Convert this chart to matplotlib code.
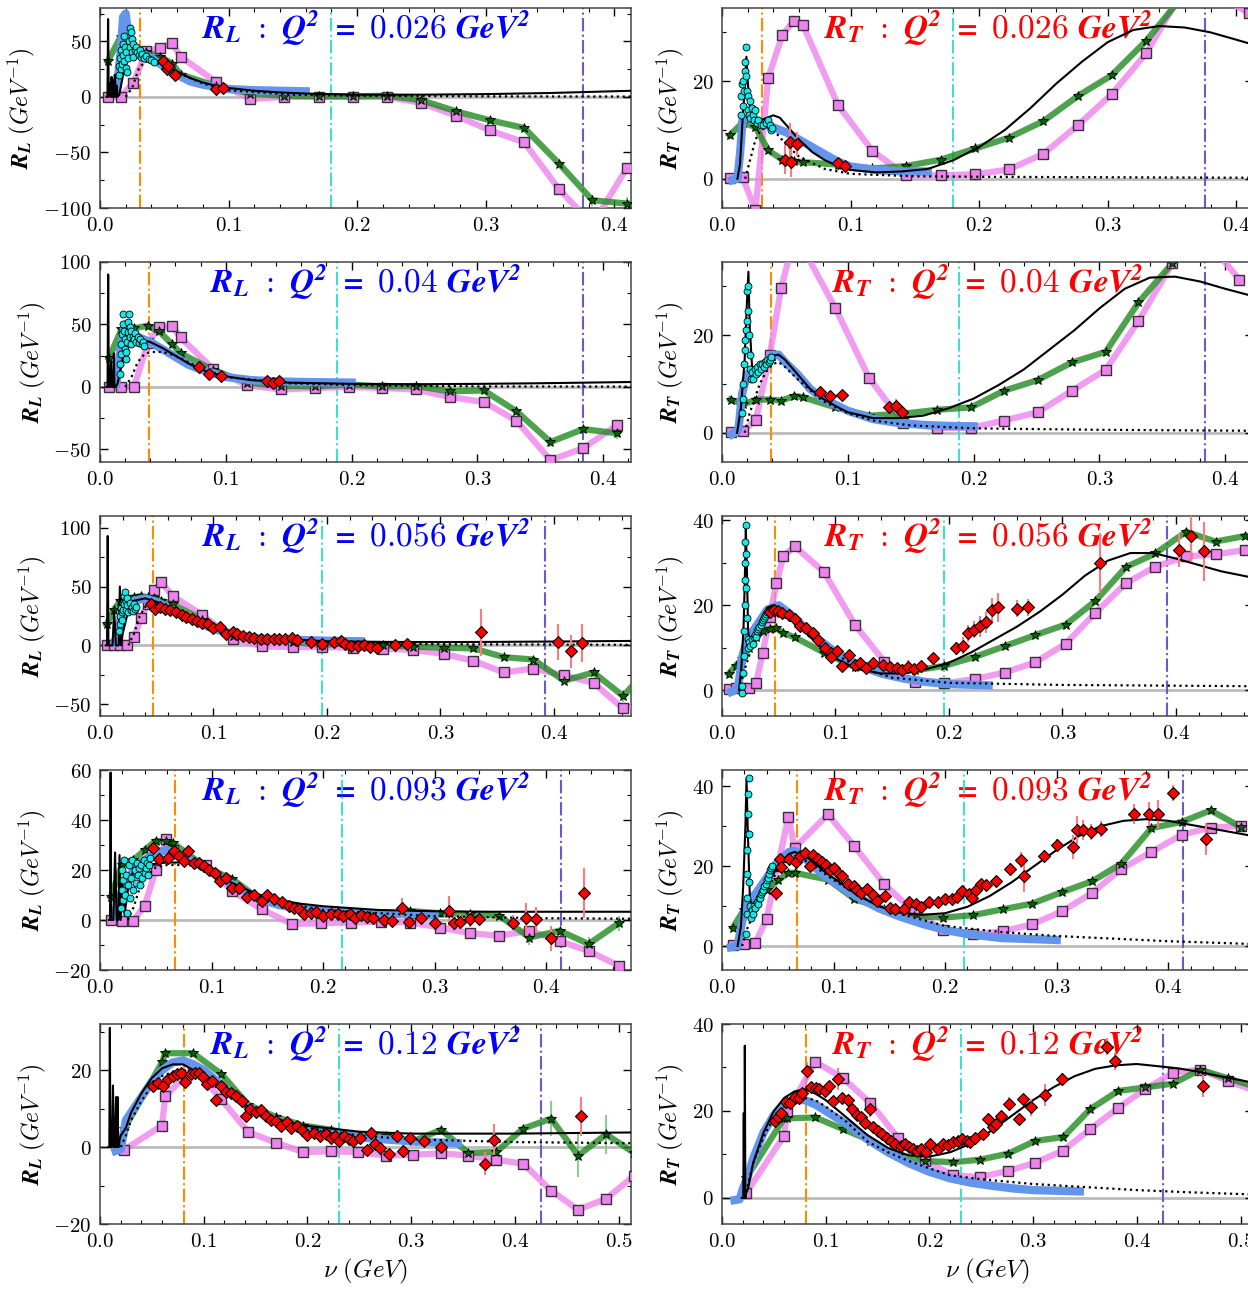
import matplotlib
matplotlib.use("Agg")
import matplotlib.pyplot as plt
from matplotlib.ticker import MultipleLocator, AutoMinorLocator, FuncFormatter

plt.rcParams['mathtext.fontset'] = 'custom'
plt.rcParams['mathtext.rm'] = 'cmr10'
plt.rcParams['mathtext.it'] = 'cmmi10'
plt.rcParams['mathtext.bf'] = 'STIXGeneral:italic:bold'
plt.rcParams['font.family'] = ['DejaVu Serif']

# ---------------- data ----------------
q2_values = ['0.026', '0.04', '0.056', '0.093', '0.12']
nu_lines = [(0.031, 0.180, 0.376), (0.039, 0.188, 0.384), (0.047, 0.196, 0.392),
            (0.067, 0.217, 0.413), (0.081, 0.230, 0.425)]

# theory grids (green stars / violet squares)
nu_th_1 = [0.006, 0.016, 0.026, 0.036, 0.047, 0.056, 0.063, 0.090, 0.117, 0.143, 0.170, 0.197, 0.223, 0.250, 0.277, 0.303, 0.330, 0.357, 0.383, 0.410]
rl_violet_1 = [0, 0, 12.7, 41, 44, 48.5, 36, 13.6, -2, 0, 0, 0, 0, -5.5, -17, -30, -41, -83, -115, -63.6]
rl_green_1 = [32, 54, 44, 40, 36, 30, 20, 10, 3, 1, 0.5, 0.5, 1, -3, -13, -21, -28, -60, -93, -96]
rl_green_err_1 = [0] * 18 + [5, 6]
rt_violet_1 = [0.1, 0.3, -6.5, 20.7, 29.5, 32.4, 31.5, 15.2, 5.7, 0.7, 0.7, 0.9, 1.9, 5.1, 11, 17.3, 25.7, 38, 38, 33.9]
rt_green_1 = [8.9, 11.5, 10.6, 5.8, 3.9, 3.6, 3.4, 2.9, 2.1, 2.6, 3.9, 6.2, 8.4, 11.8, 17, 21.2, 28.3, 37, 42, 45]

nu_th_2 = [0.007, 0.017, 0.027, 0.038, 0.047, 0.0575, 0.064, 0.090, 0.117, 0.144, 0.171, 0.198, 0.224, 0.251, 0.278, 0.305, 0.331, 0.358, 0.384, 0.411]
rl_violet_2 = [0, 0, 0, 35, 48, 48.5, 39.6, 14.3, 1.3, -2, -0.8, 0, -0.8, -2, -8, -12, -27, -58.5, -49, -30.5]
rl_green_2 = [23, 46, 47, 49, 44.5, 34, 27, 13.5, 3.5, 0.8, 0.5, 1.9, 0.5, 0.8, -3.5, -2.7, -19.4, -44, -33.7, -37]
rl_green_err_2 = [0] * 17 + [4, 0, 5]
rt_violet_2 = [0.1, 0.3, 2.7, 16, 29.7, 40, 38, 25.6, 11.2, 2, 1, 1, 2.5, 4.2, 8.6, 12.9, 22.9, 34.8, 40, 31.4]
rt_green_2 = [6.8, 5.8, 6.8, 6.8, 6.6, 7.5, 7.3, 5.2, 3.5, 3.9, 4.7, 5.2, 8.6, 10.8, 14.4, 16.6, 26.7, 34.8, 42, 45]

nu_th_3 = [0.006, 0.012, 0.018, 0.024, 0.030, 0.036, 0.042, 0.048, 0.054, 0.064, 0.090, 0.117, 0.143, 0.170, 0.196, 0.223, 0.249, 0.276, 0.303, 0.329, 0.356, 0.382, 0.409, 0.435, 0.461, 0.488]
rl_violet_3 = [0, 0, 0, 0, 7, 23, 35, 47, 53.6, 42, 26, 5.8, -0.9, -1.4, -1.4, -2, -2.9, -3.8, -7.2, -13, -23, -19.7, -25.5, -31.9, -53.6, -45]
rl_green_3 = [18, 30, 38, 40, 41, 42, 41, 40, 38, 35, 22, 8, 5, 3, 0.5, 2, 0, -1, -2, -2.5, -10, -12, -30, -23, -43, -15]
rl_green_err_3 = [0] * 23 + [3, 5, 0]
rt_violet_3 = [0.3, 0.5, 0.5, 0.6, 1.7, 8.9, 17.3, 25.2, 31.5, 33.9, 27.8, 15.5, 6.8, 1.9, 1.7, 2.7, 4.2, 6.6, 11, 18.2, 25.2, 29.1, 31.5, 32, 33, 34]
rt_green_3 = [3.9, 5.8, 7.4, 10, 12.5, 14, 14.5, 14.6, 13.5, 12.5, 8.9, 5.5, 5, 4.7, 5.8, 7.9, 10.4, 13, 15.5, 21, 29, 32.2, 37.3, 35, 36.3, 37]

nu_th_4 = [0.0098, 0.0195, 0.030, 0.040, 0.050, 0.0596, 0.065, 0.095, 0.1185, 0.145, 0.172, 0.198, 0.225, 0.252, 0.278, 0.305, 0.332, 0.358, 0.385, 0.412, 0.438, 0.465]
rl_violet_4 = [0, -0.3, -0.3, 5.7, 20, 32.4, 28, 22, 11.6, 4.3, -1.6, -1.3, -1, -0.7, -1, -3, -5.3, -6.3, -4.3, -8.4, -12.4, -18.3]
rl_green_4 = [9.3, 22, 24, 28, 31.6, 31.6, 31, 21, 16.4, 7.7, 5, 3, 2, 2, 3.6, 2.7, 2.3, 1.7, -7, -4.3, -9.6, -1.3]
rl_green_err_4 = [0] * 18 + [3, 0, 3, 3]
rt_violet_4 = [0.3, 0.6, 0.8, 6.8, 20, 32.3, 24.5, 32.9, 25, 15.6, 8.5, 4.1, 2.9, 3.7, 5.4, 8.7, 13.3, 19.3, 23.5, 27.8, 29.6, 30]
rt_green_4 = [4.6, 9, 12, 14, 16.4, 18.3, 18.3, 16.6, 11.8, 9.2, 7.5, 7.1, 7.7, 9.2, 10.6, 13.5, 16.2, 20.6, 29.5, 31, 33.9, 29.8]

nu_th_5 = [0.0235, 0.0597, 0.063, 0.090, 0.117, 0.143, 0.170, 0.196, 0.223, 0.249, 0.276, 0.302, 0.329, 0.355, 0.382, 0.408, 0.435, 0.461, 0.488, 0.515]
rl_violet_5 = [-0.7, 5.6, 13.2, 20.6, 12.4, 3.9, 1.1, -1.3, -1.1, -1.3, -2.2, -2, -1.6, -2.2, -3.3, -4.3, -11.3, -16.3, -13.4, -7.5]
rl_green_5 = [4.8, 22, 24.4, 24.4, 19, 11, 7.8, 5.6, 4.5, 3, 2.8, 1.5, 4.5, -1.5, -1.3, 4.8, 7.4, -2.2, 3.3, -1.5]
rl_green_err_5 = [0] * 16 + [4.5, 5.5, 5, 0]
rt_violet_5 = [1.2, 14.2, 19.8, 31.3, 27.5, 21.8, 13.8, 8.5, 5.2, 4.8, 6.2, 8.1, 10.9, 15.8, 20.7, 25, 28.8, 29.5, 26.9, 24.5]
rt_green_5 = [4.6, 18.3, 18.3, 18.5, 15.8, 13.2, 9.6, 8.5, 8.2, 8.8, 10.2, 13.1, 14, 20.4, 24.6, 25.4, 26.3, 29.5, 27.5, 25.5]

# black solid model curves
rl_black_nu_1 = [0.005, 0.0058, 0.0063, 0.0068, 0.0075, 0.0085, 0.009, 0.0095, 0.0105, 0.011, 0.0115, 0.0125, 0.013, 0.0135, 0.015, 0.018, 0.022, 0.026, 0.030, 0.035, 0.040, 0.050, 0.060, 0.070, 0.080, 0.090, 0.100, 0.120, 0.140, 0.160, 0.200, 0.250, 0.300, 0.350, 0.413]
rl_black_1 = [0, 0, 70, 0, 12, 0, 18, 0, 15, 0, 20, 0, 10, 0, 2, 20, 35, 38, 38, 37, 34, 29, 23, 17, 13, 10, 8, 5.5, 4, 3, 2, 2, 2.5, 3.5, 5.5]
rt_black_nu_1 = [0.012, 0.014, 0.016, 0.018, 0.019, 0.020, 0.022, 0.025, 0.030, 0.035, 0.040, 0.045, 0.050, 0.060, 0.070, 0.080, 0.090, 0.100, 0.120, 0.140, 0.160, 0.180, 0.200, 0.220, 0.240, 0.260, 0.280, 0.300, 0.320, 0.340, 0.360, 0.380, 0.400, 0.413]
rt_black_1 = [0, 3, 12, 20, 25, 20, 14, 12, 12, 12.5, 13, 12.5, 11, 8, 5.5, 3.8, 2.6, 1.8, 1.3, 1.5, 2, 3.8, 6.5, 10, 14.5, 19.5, 24, 28, 30.5, 31.3, 31, 30, 28.5, 27.5]

rl_black_nu_2 = [0.005, 0.006, 0.0065, 0.007, 0.008, 0.0088, 0.0095, 0.0105, 0.011, 0.0115, 0.0125, 0.014, 0.018, 0.022, 0.026, 0.030, 0.035, 0.040, 0.050, 0.060, 0.070, 0.080, 0.090, 0.100, 0.120, 0.150, 0.200, 0.250, 0.300, 0.350, 0.422]
rl_black_2 = [0, 0, 90, 0, 0, 20, 0, 0, 27, 0, 0, 3, 22, 36, 38, 38, 37, 36, 31, 25, 19, 14, 11, 8.5, 5.5, 3.5, 2.5, 2.2, 2.5, 3, 4]
rt_black_nu_2 = [0.012, 0.015, 0.018, 0.0195, 0.021, 0.022, 0.024, 0.027, 0.030, 0.035, 0.040, 0.045, 0.050, 0.060, 0.070, 0.080, 0.090, 0.100, 0.120, 0.140, 0.160, 0.180, 0.200, 0.220, 0.240, 0.260, 0.280, 0.300, 0.320, 0.340, 0.360, 0.380, 0.400, 0.422]
rt_black_2 = [0, 5, 15, 25, 33, 22, 13, 12, 13.5, 14.5, 15.8, 16, 15, 12, 9, 7, 5.5, 4.2, 3, 3, 3.5, 5, 7, 9.8, 13, 17, 21, 25.5, 29.5, 31.8, 32, 31, 29.5, 28]

rl_black_nu_3 = [0.005, 0.0062, 0.0068, 0.0074, 0.011, 0.0125, 0.014, 0.0165, 0.0175, 0.0185, 0.020, 0.025, 0.030, 0.040, 0.050, 0.060, 0.070, 0.080, 0.090, 0.100, 0.120, 0.140, 0.160, 0.200, 0.250, 0.300, 0.350, 0.400, 0.468]
rl_black_3 = [0, 0, 93, 0, 0, 30, 0, 0, 50, 0, 10, 30, 38, 40, 37, 33, 28, 23, 19, 15, 10, 7, 5.5, 3.5, 3, 2.8, 3, 3.3, 3.8]
rt_black_nu_3 = [0.015, 0.017, 0.019, 0.020, 0.021, 0.022, 0.023, 0.025, 0.030, 0.035, 0.040, 0.045, 0.050, 0.060, 0.070, 0.080, 0.090, 0.100, 0.120, 0.140, 0.160, 0.180, 0.200, 0.220, 0.240, 0.260, 0.280, 0.300, 0.320, 0.340, 0.360, 0.380, 0.400, 0.420, 0.440, 0.468]
rt_black_3 = [0, 5, 15, 25, 38, 28, 14, 10.5, 14, 17, 19.5, 20, 19.5, 17, 14.5, 12, 9.5, 7.5, 5, 4, 4, 5, 6.5, 9, 12, 15, 18.5, 22.5, 27, 30.5, 32.3, 32.3, 31, 29.5, 28, 26.5]

rl_black_nu_4 = [0.008, 0.009, 0.0095, 0.010, 0.012, 0.0135, 0.015, 0.0165, 0.0175, 0.0185, 0.020, 0.022, 0.025, 0.030, 0.040, 0.050, 0.060, 0.075, 0.090, 0.100, 0.120, 0.140, 0.160, 0.180, 0.200, 0.250, 0.300, 0.350, 0.400, 0.476]
rl_black_4 = [0, 0, 59, 0, 0, 27, 0, 0, 26, 0, 15, 2, 12, 20, 22, 22.5, 23, 23, 21.5, 19, 14.5, 10.5, 8, 6.5, 5.5, 4, 3.5, 3.3, 3.3, 3.3]
rt_black_nu_4 = [0.014, 0.017, 0.019, 0.021, 0.022, 0.023, 0.025, 0.028, 0.030, 0.040, 0.050, 0.060, 0.065, 0.070, 0.080, 0.090, 0.100, 0.120, 0.140, 0.160, 0.180, 0.200, 0.220, 0.240, 0.260, 0.280, 0.300, 0.320, 0.340, 0.360, 0.380, 0.400, 0.420, 0.440, 0.476]
rt_black_4 = [0, 5, 15, 30, 42, 30, 12, 8, 9, 15, 20, 23, 23.5, 23, 21.5, 19, 17, 13, 10, 8.3, 7.8, 8.2, 9.8, 12.5, 16, 20, 24, 27.5, 30, 31.3, 31.7, 31.3, 30.3, 29.3, 27.5]

rl_black_nu_5 = [0.008, 0.009, 0.0095, 0.010, 0.0115, 0.0125, 0.0135, 0.0145, 0.0155, 0.016, 0.017, 0.0175, 0.018, 0.019, 0.020, 0.025, 0.030, 0.040, 0.050, 0.060, 0.070, 0.080, 0.090, 0.100, 0.120, 0.140, 0.160, 0.180, 0.200, 0.250, 0.300, 0.400, 0.512]
rl_black_5 = [0, 0, 31, 0, 0, 16, 0, 0, 13, 0, 13, 0, 0, 2, 3, 5, 9, 14, 18, 20.5, 21.5, 21.5, 20, 18.5, 14.5, 11, 8.5, 6.5, 5.5, 4, 3.5, 3.5, 3.8]
rt_black_nu_5 = [0.019, 0.0205, 0.021, 0.0215, 0.0218, 0.022, 0.0225, 0.023, 0.025, 0.030, 0.040, 0.050, 0.060, 0.070, 0.080, 0.090, 0.100, 0.120, 0.140, 0.160, 0.180, 0.200, 0.220, 0.240, 0.260, 0.280, 0.300, 0.320, 0.340, 0.360, 0.380, 0.400, 0.420, 0.440, 0.460, 0.480, 0.512]
rt_black_5 = [0, 0, 19.5, 0, 5, 35, 0, 1, 2, 8, 15, 20, 23, 24.5, 25, 24, 22.5, 18.5, 14.5, 11.5, 9.8, 9.5, 10.5, 12.5, 15.5, 19, 22.5, 25.5, 28, 29.7, 30.5, 30.8, 30.3, 29.8, 29, 28, 26.5]

# black dotted curves
rl_dot_nu_1 = [0.020, 0.025, 0.030, 0.035, 0.045, 0.060, 0.080, 0.100, 0.150, 0.200, 0.300, 0.413]
rl_dot_1 = [0, 8, 25, 32, 30, 22, 12, 6, 2, 1, 0.5, 0.3]
rt_dot_nu_1 = [0.018, 0.022, 0.026, 0.030, 0.035, 0.040, 0.050, 0.060, 0.080, 0.100, 0.150, 0.200, 0.300, 0.413]
rt_dot_1 = [0, 4, 8, 10, 10.5, 10, 7, 4.5, 2, 1, 0.5, 0.4, 0.3, 0.2]
rl_dot_nu_2 = [0.020, 0.025, 0.030, 0.035, 0.040, 0.050, 0.060, 0.080, 0.100, 0.150, 0.200, 0.300, 0.422]
rl_dot_2 = [0, 8, 20, 26, 28, 28, 25, 15, 8, 3, 1.5, 0.5, 0.3]
rt_dot_nu_2 = [0.018, 0.022, 0.026, 0.030, 0.035, 0.040, 0.045, 0.050, 0.060, 0.080, 0.100, 0.120, 0.150, 0.200, 0.300, 0.422]
rt_dot_2 = [0, 4, 7, 10, 12.5, 14, 14.5, 13.5, 11, 6.5, 4, 2.5, 1.5, 0.9, 0.6, 0.4]
rl_dot_nu_3 = [0.025, 0.030, 0.035, 0.040, 0.050, 0.060, 0.080, 0.100, 0.120, 0.150, 0.200, 0.300, 0.468]
rl_dot_3 = [0, 10, 25, 33, 36, 33, 23, 15, 9, 5, 2.5, 1, 0.5]
rt_dot_nu_3 = [0.015, 0.020, 0.025, 0.030, 0.040, 0.045, 0.050, 0.060, 0.080, 0.100, 0.120, 0.150, 0.200, 0.300, 0.468]
rt_dot_3 = [0, 5, 9, 13, 17.5, 18.5, 18, 16.5, 12, 8.5, 5.5, 3, 1.8, 1.3, 1]
rl_dot_nu_4 = [0.025, 0.030, 0.035, 0.040, 0.050, 0.060, 0.080, 0.100, 0.120, 0.150, 0.200, 0.300, 0.400, 0.476]
rl_dot_4 = [0, 5, 12, 17, 21, 22, 22, 18.5, 13.5, 8, 4, 1.5, 0.7, 0.5]
rt_dot_nu_4 = [0.018, 0.022, 0.030, 0.040, 0.050, 0.060, 0.065, 0.070, 0.080, 0.100, 0.120, 0.140, 0.160, 0.200, 0.250, 0.300, 0.400, 0.476]
rt_dot_4 = [0, 4, 9, 14, 19, 22, 22.5, 22, 20.5, 16.5, 13, 10, 8, 5, 3.5, 2.5, 1.2, 0.5]
rl_dot_nu_5 = [0.020, 0.025, 0.030, 0.040, 0.050, 0.060, 0.070, 0.080, 0.090, 0.100, 0.120, 0.140, 0.160, 0.200, 0.250, 0.300, 0.400, 0.512]
rl_dot_5 = [0, 3, 7, 12, 16, 18.5, 19.5, 20, 19.5, 18, 14, 10.5, 8, 5, 3, 2, 1.3, 1]
rt_dot_nu_5 = [0.022, 0.025, 0.030, 0.040, 0.050, 0.060, 0.070, 0.080, 0.090, 0.100, 0.120, 0.140, 0.160, 0.180, 0.200, 0.220, 0.250, 0.300, 0.350, 0.400, 0.450, 0.512]
rt_dot_5 = [0, 3, 8, 14, 18.5, 21, 22.5, 23, 22.5, 21, 17.5, 13, 10.5, 8.5, 6.8, 5.2, 4.3, 3.2, 2.5, 1.8, 1.3, 0.8]

# thick blue curves
rl_blue_nu_1 = [0.013, 0.016, 0.018, 0.020, 0.022, 0.026, 0.030, 0.040, 0.050, 0.060, 0.070, 0.080, 0.100, 0.120, 0.140, 0.160]
rl_blue_1 = [5, 40, 72, 75, 55, 45, 40, 35, 27, 20, 14, 11, 7, 6, 5.5, 5]
rt_blue_nu_1 = [0.008, 0.012, 0.014, 0.016, 0.020, 0.030, 0.040, 0.050, 0.060, 0.070, 0.080, 0.090, 0.100, 0.120, 0.140, 0.160]
rt_blue_1 = [-0.3, 0, 5, 12, 12.5, 11.5, 10.5, 9.5, 8, 6.5, 5, 3.5, 2.5, 1.8, 1.5, 1.5]
rl_blue_nu_2 = [0.013, 0.016, 0.020, 0.025, 0.030, 0.040, 0.050, 0.060, 0.070, 0.080, 0.100, 0.120, 0.140, 0.160, 0.200]
rl_blue_2 = [3, 30, 50, 45, 40, 36, 30, 24, 18, 14, 8, 5.5, 4.5, 4, 3.5]
rt_blue_nu_2 = [0.008, 0.013, 0.016, 0.020, 0.030, 0.040, 0.045, 0.050, 0.060, 0.070, 0.080, 0.100, 0.120, 0.140, 0.160, 0.180, 0.200]
rt_blue_2 = [-0.3, 0.5, 8, 12, 13, 16, 16, 14.5, 12, 9, 7, 4.5, 2.8, 2, 1.6, 1.4, 1.3]
rl_blue_nu_3 = [0.013, 0.020, 0.030, 0.040, 0.050, 0.060, 0.070, 0.080, 0.090, 0.100, 0.120, 0.140, 0.160, 0.200, 0.230]
rl_blue_3 = [2, 30, 38, 40, 37, 32, 27, 22, 18, 14, 9, 6, 5, 4, 3.5]
rt_blue_nu_3 = [0.008, 0.014, 0.018, 0.022, 0.030, 0.040, 0.050, 0.060, 0.070, 0.080, 0.090, 0.100, 0.120, 0.140, 0.160, 0.180, 0.200, 0.235]
rt_blue_3 = [-0.3, 0.5, 8, 12, 15, 19, 20, 18, 15.5, 13, 11, 9, 6, 4, 2.8, 2, 1.5, 1.2]
rl_blue_nu_4 = [0.013, 0.020, 0.030, 0.040, 0.050, 0.060, 0.070, 0.080, 0.090, 0.100, 0.120, 0.140, 0.160, 0.180, 0.200, 0.250, 0.300]
rl_blue_4 = [2, 12, 20, 24, 27, 28, 26, 24, 22, 19, 14, 9, 6, 4.5, 3.5, 2.5, 2]
rt_blue_nu_4 = [0.008, 0.014, 0.018, 0.022, 0.030, 0.040, 0.050, 0.060, 0.065, 0.070, 0.080, 0.090, 0.100, 0.120, 0.140, 0.160, 0.180, 0.200, 0.220, 0.250, 0.300]
rt_blue_4 = [-0.3, 0, 6, 11, 13, 17, 21, 23.5, 23.8, 23, 20.5, 18, 16, 12.5, 9.5, 7.3, 5.5, 4, 3, 2, 1.5]
rl_blue_nu_5 = [0.015, 0.020, 0.025, 0.030, 0.040, 0.050, 0.060, 0.070, 0.080, 0.090, 0.100, 0.120, 0.140, 0.160, 0.180, 0.200, 0.250, 0.300, 0.345]
rl_blue_5 = [-1, -0.5, 7, 9, 13, 17, 20, 22, 22.5, 21.5, 20, 15.5, 11, 8, 6, 4.5, 2.5, 1.5, 1]
rt_blue_nu_5 = [0.012, 0.017, 0.020, 0.025, 0.030, 0.040, 0.050, 0.060, 0.070, 0.080, 0.090, 0.100, 0.120, 0.140, 0.160, 0.180, 0.200, 0.220, 0.240, 0.260, 0.280, 0.300, 0.345]
rt_blue_5 = [-0.5, -0.3, 2, 5, 9, 15, 19, 21.5, 22.5, 22.5, 21.5, 20, 17, 13.5, 10.5, 8, 6, 4.5, 3.5, 2.8, 2.2, 1.8, 1.5]

# cyan circles (low-nu data)
rl_cyan_nu_1 = [0.0145, 0.015, 0.0155, 0.016, 0.0165, 0.017, 0.0175, 0.018, 0.0185, 0.019, 0.0195, 0.020, 0.0205, 0.021, 0.022, 0.0225, 0.023, 0.0235, 0.024, 0.0245, 0.025, 0.0255, 0.026, 0.027, 0.028, 0.029, 0.030, 0.031, 0.032, 0.033, 0.034, 0.036, 0.038, 0.040, 0.042]
rl_cyan_1 = [20, 28, 35, 25, 42, 30, 48, 38, 55, 32, 45, 26, 40, 22, 35, 50, 62, 45, 58, 40, 52, 36, 48, 42, 45, 40, 38, 42, 36, 39, 35, 37, 34, 33, 31]
rt_cyan_nu_1 = [0.0145, 0.015, 0.0155, 0.016, 0.0165, 0.017, 0.0175, 0.018, 0.0185, 0.019, 0.0195, 0.020, 0.0205, 0.021, 0.0215, 0.022, 0.023, 0.024, 0.025, 0.026, 0.027, 0.028, 0.030, 0.032, 0.034, 0.036, 0.037, 0.038, 0.039]
rt_cyan_1 = [13, 17, 19.5, 15, 20, 18, 24, 22, 27, 21, 18, 14, 17, 13, 16, 12.5, 14.5, 13, 12, 14, 11.5, 12, 11, 11, 11.5, 12, 11, 10, 10.5]
rl_cyan_nu_2 = [0.0155, 0.016, 0.0165, 0.017, 0.0175, 0.018, 0.0185, 0.019, 0.0195, 0.020, 0.0205, 0.021, 0.0215, 0.022, 0.0225, 0.023, 0.0235, 0.024, 0.0245, 0.025, 0.026, 0.027, 0.028, 0.029, 0.030, 0.031, 0.032, 0.033, 0.034, 0.035]
rl_cyan_2 = [10, 18, 26, 34, 42, 50, 58, 45, 38, 30, 22, 28, 36, 44, 52, 58, 48, 40, 34, 45, 40, 38, 43, 36, 40, 35, 38, 34, 36, 33]
rt_cyan_nu_2 = [0.016, 0.0165, 0.017, 0.0175, 0.018, 0.0185, 0.019, 0.0195, 0.020, 0.0205, 0.021, 0.0215, 0.022, 0.0225, 0.023, 0.024, 0.025, 0.026, 0.027, 0.028, 0.029, 0.030, 0.031, 0.032, 0.033, 0.034, 0.035, 0.036, 0.037, 0.038, 0.039]
rt_cyan_2 = [4, 7, 10, 14, 17, 19, 21, 23, 29, 30, 25, 20, 16, 13, 11, 12.5, 11, 13, 12, 13.5, 12.5, 14, 13, 14, 13.5, 14.5, 14, 15, 14.5, 15, 15.5]
rl_cyan_nu_3 = [0.017, 0.0175, 0.018, 0.0185, 0.019, 0.0195, 0.020, 0.0205, 0.021, 0.0215, 0.022, 0.0225, 0.023, 0.0235, 0.024, 0.025, 0.026, 0.027, 0.028, 0.029, 0.030, 0.031, 0.032]
rl_cyan_3 = [12, 18, 25, 32, 22, 28, 36, 30, 42, 35, 45, 38, 30, 40, 34, 28, 36, 30, 33, 29, 35, 31, 33]
rt_cyan_nu_3 = [0.0175, 0.018, 0.0185, 0.019, 0.0195, 0.020, 0.020, 0.0205, 0.0205, 0.021, 0.021, 0.0215, 0.022, 0.0225, 0.023, 0.024, 0.025, 0.026, 0.027, 0.028, 0.029, 0.030, 0.031, 0.032, 0.033, 0.034, 0.035, 0.036, 0.037, 0.038, 0.039, 0.040]
rt_cyan_3 = [-0.5, 1, 4, 8, 14, 20, 26, 30, 35, 39, 32, 24, 17, 12, 10, 11.5, 10.5, 12, 11, 12.5, 13, 12.5, 14, 14.5, 15, 15.5, 16, 16.5, 17, 17.5, 18, 18.5]
rl_cyan_nu_4 = [0.019, 0.0195, 0.020, 0.0205, 0.021, 0.0215, 0.022, 0.023, 0.024, 0.025, 0.026, 0.027, 0.028, 0.029, 0.030, 0.031, 0.032, 0.033, 0.034, 0.035, 0.036, 0.037, 0.038, 0.039, 0.040, 0.041, 0.042, 0.043, 0.044, 0.045]
rl_cyan_4 = [5, 12, 20, 8, 16, 24, 10, 18, 3, 14, 22, 9, 17, 24, 12, 20, 15, 23, 18, 21, 14, 22, 17, 24, 19, 21, 23, 18, 22, 25]
rt_cyan_nu_4 = [0.0215, 0.022, 0.0222, 0.0225, 0.0228, 0.023, 0.0232, 0.0235, 0.0238, 0.024, 0.0245, 0.025, 0.026, 0.027, 0.028, 0.029, 0.030, 0.031, 0.032, 0.033, 0.034, 0.035, 0.036, 0.037, 0.038, 0.039, 0.040, 0.041, 0.042, 0.043, 0.044, 0.045]
rt_cyan_4 = [3, 8, 12, 18, 24, 28, 33, 38, 42, 28, 16, 10, 7, 9, 8, 10, 9.5, 11, 10.5, 12, 12, 13, 13.5, 14, 15, 15.5, 16.5, 17, 18, 19, 19.5, 20]
rl_cyan_nu_5 = []
rl_cyan_5 = []
rt_cyan_nu_5 = []
rt_cyan_5 = []

# red diamonds (data with errors)
rl_red_nu_1 = [0.049, 0.052, 0.053, 0.0585, 0.090, 0.0955]
rl_red_1 = [32, 25, 28, 20, 7.5, 8]
rl_red_err_1 = [1.5, 1.5, 1.5, 1.5, 1, 1]
rt_red_nu_1 = [0.049, 0.053, 0.054, 0.0585, 0.090, 0.0955]
rt_red_1 = [3.9, 7.5, 3.4, 7.1, 3.3, 2.7]
rt_red_err_1 = [3, 4, 3, 2.5, 0.8, 0.6]

rl_red_nu_2 = [0.0786, 0.0868, 0.0959, 0.133, 0.1375, 0.1423]
rl_red_2 = [15.6, 10.2, 8.6, 4.6, 3.5, 4.6]
rl_red_err_2 = [1, 1, 1, 1.5, 1.5, 1.5]
rt_red_nu_2 = [0.078, 0.086, 0.095, 0.133, 0.138, 0.143]
rt_red_2 = [8.3, 7.6, 7.8, 5.2, 5.4, 4.2]
rt_red_err_2 = [0.5, 0.5, 0.5, 1, 1.5, 1]

rl_red_nu_3 = [0.045, 0.0485, 0.053, 0.057, 0.062, 0.067, 0.072, 0.076, 0.081, 0.0855, 0.090, 0.095, 0.100, 0.106, 0.111, 0.117, 0.121, 0.126, 0.131, 0.136, 0.142, 0.147, 0.153, 0.158, 0.163, 0.169, 0.174, 0.186, 0.196, 0.206, 0.212, 0.216, 0.221, 0.227, 0.233, 0.238, 0.244, 0.260, 0.271, 0.336, 0.404, 0.415, 0.425]
rl_red_3 = [35.6, 31, 33, 31, 30, 28, 26, 24, 22.6, 21, 19, 18, 14.5, 15.4, 10, 11, 9.3, 8, 7.2, 6.7, 5.8, 5.8, 5.8, 5.8, 5.8, 6.7, 4.9, 2.9, 1.4, 2.9, 3.8, 0.9, -0.6, -0.6, 0, -1.4, -2.3, 0.6, 1.4, 11, 2.9, -5, 2]
rl_red_err_3 = [1.5] * 39 + [20, 15, 14, 16]
rt_red_nu_3 = [0.042, 0.0455, 0.049, 0.053, 0.059, 0.064, 0.069, 0.074, 0.080, 0.085, 0.091, 0.096, 0.096, 0.101, 0.106, 0.112, 0.117, 0.122, 0.127, 0.133, 0.142, 0.1485, 0.154, 0.159, 0.164, 0.169, 0.175, 0.186, 0.2065, 0.212, 0.217, 0.2225, 0.2275, 0.233, 0.238, 0.2435, 0.260, 0.270, 0.333, 0.403, 0.413, 0.4245]
rt_red_3 = [18.4, 18.8, 18.7, 18.3, 17.7, 16.7, 15.1, 14.6, 13.5, 11.8, 10, 8.9, 7.8, 9.3, 5.8, 8.3, 6, 6.5, 5.2, 6.4, 6, 5.6, 5.2, 4.8, 5.6, 5, 5.8, 7.6, 9.9, 10.5, 13.4, 14.3, 15.1, 16, 18.8, 19.5, 19.2, 19.5, 30, 33, 36.3, 32.7]
rt_red_err_3 = [0.5] * 23 + [1.5, 1.5, 1, 1, 1, 1.5, 2, 2, 2, 2.5, 2.5, 3, 3.5, 2, 2, 7, 4, 6, 7]

rl_red_nu_4 = [0.0477, 0.053, 0.061, 0.066, 0.0704, 0.075, 0.079, 0.084, 0.089, 0.0935, 0.098, 0.103, 0.108, 0.113, 0.118, 0.125, 0.132, 0.138, 0.145, 0.150, 0.156, 0.163, 0.169, 0.174, 0.178, 0.183, 0.189, 0.194, 0.200, 0.207, 0.213, 0.218, 0.224, 0.229, 0.234, 0.239, 0.245, 0.255, 0.262, 0.271, 0.277, 0.288, 0.300, 0.313, 0.317, 0.323, 0.332, 0.340, 0.370, 0.382, 0.391, 0.404, 0.434]
rl_red_4 = [28.7, 24.4, 24.7, 27.7, 25.7, 23.6, 27.6, 23, 22.7, 21.6, 20, 18.7, 15.6, 17, 13, 12.7, 9.3, 10, 7.7, 10, 8.3, 7.3, 5.7, 4.7, 4.4, 2.3, 2.7, 3.3, 1.7, 2.3, 2.3, 1.7, 2.3, 1, 2, 1.3, 0.7, 0, -0.3, 4.7, -0.7, 0.7, -1, 3.6, -1.3, -0.7, 0.3, 0.4, -1, 0.7, 0.4, -7.3, 10.7]
rl_red_err_4 = [0.8] * 37 + [1.5, 2, 4, 2, 2, 2, 6, 3, 3, 3, 2, 3, 6, 5, 5, 10]
rt_red_nu_4 = [0.048, 0.052, 0.053, 0.060, 0.066, 0.070, 0.074, 0.079, 0.082, 0.086, 0.090, 0.093, 0.097, 0.100, 0.1045, 0.108, 0.113, 0.118, 0.121, 0.125, 0.130, 0.135, 0.139, 0.146, 0.151, 0.155, 0.163, 0.168, 0.1735, 0.178, 0.186, 0.194, 0.200, 0.2065, 0.211, 0.2155, 0.221, 0.224, 0.228, 0.2325, 0.237, 0.246, 0.258, 0.268, 0.271, 0.2885, 0.3005, 0.3145, 0.318, 0.3235, 0.331, 0.340, 0.3695, 0.3825, 0.3905, 0.4045, 0.434]
rt_red_4 = [13.3, 21.8, 19.8, 21.8, 21, 22.5, 23.3, 20, 22.8, 21.8, 21, 20.2, 19.1, 19.5, 18.1, 17.5, 15.5, 15, 14, 13.3, 14.3, 12.7, 11.2, 12.4, 9.5, 9.3, 9.3, 11, 10.4, 9.8, 11, 11, 11.8, 11.7, 12.2, 13.7, 13.1, 12, 13.9, 15.6, 15.2, 16.2, 19.3, 21.4, 17.5, 22.6, 25.3, 24.7, 28.9, 29.1, 28.6, 29.3, 32.9, 33, 32.9, 38.2, 26.8]
rt_red_err_4 = [2] + [0.6] * 25 + [1] * 16 + [1.5, 2, 4, 1.5, 1.5, 3, 3.5, 2.5, 2, 2, 2.5, 3, 3.5, 2, 4]

rl_red_nu_5 = [0.051, 0.056, 0.061, 0.066, 0.070, 0.074, 0.0777, 0.0824, 0.0875, 0.0914, 0.095, 0.0993, 0.103, 0.108, 0.112, 0.1166, 0.1217, 0.126, 0.1315, 0.137, 0.141, 0.145, 0.150, 0.155, 0.160, 0.165, 0.170, 0.1746, 0.180, 0.1845, 0.1896, 0.195, 0.200, 0.206, 0.212, 0.218, 0.2225, 0.2265, 0.230, 0.2355, 0.240, 0.244, 0.251, 0.257, 0.261, 0.265, 0.270, 0.279, 0.2865, 0.292, 0.299, 0.312, 0.329, 0.371, 0.380, 0.464]
rl_red_5 = [15.8, 16.6, 16, 17.6, 18.4, 19, 19.2, 16.9, 19, 19.3, 19.2, 18.2, 16.5, 17.1, 12.3, 16, 14.3, 14, 13.2, 12.1, 8, 10, 9.1, 9.7, 8, 7.1, 6.9, 5.6, 6.5, 5, 5.6, 4.5, 3.2, 3.6, 2.9, 3.5, 2.4, 2.9, 1.7, 2.8, 2.2, 1.7, 2.4, -0.7, 3.6, 0.9, -0.2, -1.7, 2.9, -0.9, 2.4, 1.7, 0, -4.3, 1.9, 8]
rl_red_err_5 = [0.6] * 43 + [1, 1, 1, 1, 1.2, 1.5, 1.5, 1.5, 1.5, 1.5, 3, 4, 5]
rt_red_nu_5 = [0.0514, 0.054, 0.057, 0.0615, 0.0655, 0.070, 0.0738, 0.0775, 0.082, 0.086, 0.0905, 0.094, 0.099, 0.1036, 0.107, 0.112, 0.116, 0.1215, 0.125, 0.1297, 0.134, 0.138, 0.1427, 0.146, 0.150, 0.1546, 0.159, 0.163, 0.167, 0.1725, 0.176, 0.1807, 0.184, 0.1885, 0.192, 0.197, 0.201, 0.208, 0.2127, 0.218, 0.2228, 0.2276, 0.231, 0.236, 0.2396, 0.244, 0.252, 0.256, 0.261, 0.2645, 0.2694, 0.2768, 0.2861, 0.29, 0.298, 0.311, 0.328, 0.371, 0.379, 0.464]
rt_red_5 = [17.7, 18.7, 19.5, 22, 21.8, 23.3, 23, 24.2, 29.2, 25.4, 25.2, 25, 24.5, 25.8, 22.3, 27.3, 22.9, 22.5, 20.4, 19, 18.7, 17.2, 20.5, 16.2, 15.5, 14.8, 13.8, 13, 12.5, 11.9, 12.4, 11.7, 11.3, 10.8, 11.2, 10.5, 12.3, 11.2, 12.5, 12.1, 12.8, 13.1, 13.5, 13.2, 12.8, 13.8, 14.6, 18.1, 16.2, 16.9, 18.8, 21.7, 18.1, 22.7, 20.8, 23.6, 27.3, 34.8, 31.4, 25.8]
rt_red_err_5 = [0.6] * 8 + [2] + [0.6] * 6 + [2.5] + [0.6] * 6 + [2] + [0.6] * 28 + [1.5, 1, 1, 2, 2.5, 1.5, 2, 2, 2.5]

# ---------------- collect ----------------
nu_th = [nu_th_1, nu_th_2, nu_th_3, nu_th_4, nu_th_5]
panels_rl = [
    (rl_violet_1, rl_green_1, rl_green_err_1, rl_black_nu_1, rl_black_1, rl_dot_nu_1, rl_dot_1, rl_blue_nu_1, rl_blue_1, rl_cyan_nu_1, rl_cyan_1, rl_red_nu_1, rl_red_1, rl_red_err_1),
    (rl_violet_2, rl_green_2, rl_green_err_2, rl_black_nu_2, rl_black_2, rl_dot_nu_2, rl_dot_2, rl_blue_nu_2, rl_blue_2, rl_cyan_nu_2, rl_cyan_2, rl_red_nu_2, rl_red_2, rl_red_err_2),
    (rl_violet_3, rl_green_3, rl_green_err_3, rl_black_nu_3, rl_black_3, rl_dot_nu_3, rl_dot_3, rl_blue_nu_3, rl_blue_3, rl_cyan_nu_3, rl_cyan_3, rl_red_nu_3, rl_red_3, rl_red_err_3),
    (rl_violet_4, rl_green_4, rl_green_err_4, rl_black_nu_4, rl_black_4, rl_dot_nu_4, rl_dot_4, rl_blue_nu_4, rl_blue_4, rl_cyan_nu_4, rl_cyan_4, rl_red_nu_4, rl_red_4, rl_red_err_4),
    (rl_violet_5, rl_green_5, rl_green_err_5, rl_black_nu_5, rl_black_5, rl_dot_nu_5, rl_dot_5, rl_blue_nu_5, rl_blue_5, rl_cyan_nu_5, rl_cyan_5, rl_red_nu_5, rl_red_5, rl_red_err_5),
]
panels_rt = [
    (rt_violet_1, rt_green_1, None, rt_black_nu_1, rt_black_1, rt_dot_nu_1, rt_dot_1, rt_blue_nu_1, rt_blue_1, rt_cyan_nu_1, rt_cyan_1, rt_red_nu_1, rt_red_1, rt_red_err_1),
    (rt_violet_2, rt_green_2, None, rt_black_nu_2, rt_black_2, rt_dot_nu_2, rt_dot_2, rt_blue_nu_2, rt_blue_2, rt_cyan_nu_2, rt_cyan_2, rt_red_nu_2, rt_red_2, rt_red_err_2),
    (rt_violet_3, rt_green_3, None, rt_black_nu_3, rt_black_3, rt_dot_nu_3, rt_dot_3, rt_blue_nu_3, rt_blue_3, rt_cyan_nu_3, rt_cyan_3, rt_red_nu_3, rt_red_3, rt_red_err_3),
    (rt_violet_4, rt_green_4, None, rt_black_nu_4, rt_black_4, rt_dot_nu_4, rt_dot_4, rt_blue_nu_4, rt_blue_4, rt_cyan_nu_4, rt_cyan_4, rt_red_nu_4, rt_red_4, rt_red_err_4),
    (rt_violet_5, rt_green_5, None, rt_black_nu_5, rt_black_5, rt_dot_nu_5, rt_dot_5, rt_blue_nu_5, rt_blue_5, rt_cyan_nu_5, rt_cyan_5, rt_red_nu_5, rt_red_5, rt_red_err_5),
]

# axes settings
x_max = [0.413, 0.422, 0.468, 0.476, 0.512]
rl_ylim = [(-100, 80), (-60, 100), (-60, 110), (-20, 60), (-20, 32)]
rl_ystep = [50, 50, 50, 20, 20]
rt_ylim = [(-6, 35), (-6, 35), (-6, 41), (-6, 44), (-6, 40)]


def draw(ax, grid, d, vlines):
    (violet, green, green_err, bk_x, bk_y, dt_x, dt_y, bl_x, bl_y,
     cy_x, cy_y, rd_x, rd_y, rd_e) = d
    ax.axhline(0, color='#bbbbbb', lw=2, zorder=1)
    for v, c in zip(vlines, ['darkorange', 'turquoise', 'slateblue']):
        ax.axvline(v, color=c, ls='-.', lw=1.5, zorder=2)
    ax.plot(grid, violet, '-', color='violet', lw=4.5, alpha=0.8, zorder=3)
    ax.plot(grid, violet, 's', mfc='violet', mec='#333333', mew=1, ms=6.5, zorder=4)
    if green_err is not None:
        ax.errorbar(grid, green, yerr=green_err, fmt='none', ecolor='#7fc97f',
                    elinewidth=1.3, zorder=3)
    ax.plot(grid, green, '-', color='forestgreen', lw=4.5, alpha=0.8, zorder=3)
    ax.plot(grid, green, '*', mfc='darkgreen', mec='k', mew=0.6, ms=7.5, zorder=4)
    ax.plot(bl_x, bl_y, '-', color='cornflowerblue', lw=6, zorder=5)
    ax.plot(dt_x, dt_y, ':', color='k', lw=1.6, zorder=6)
    ax.plot(bk_x, bk_y, '-', color='k', lw=1.5, zorder=6)
    if len(cy_x):
        ax.plot(cy_x, cy_y, 'o', mfc='#19e6e6', mec='k', mew=0.6, ms=5, zorder=7)
    ax.errorbar(rd_x, rd_y, yerr=rd_e, fmt='D', mfc='red', mec='k', mew=0.8, ms=6.5,
                ecolor='#ff7a7a', elinewidth=1.5, zorder=8)


def style(ax, xmax, ylim, ystep):
    ax.set_xlim(0, xmax)
    ax.set_ylim(*ylim)
    ax.xaxis.set_major_locator(MultipleLocator(0.1))
    ax.xaxis.set_minor_locator(AutoMinorLocator(5))
    ax.yaxis.set_major_locator(MultipleLocator(ystep))
    ax.yaxis.set_minor_locator(AutoMinorLocator(2))
    ax.xaxis.set_major_formatter(FuncFormatter(lambda v, p: f'${v + 0.0:.1f}$'))
    ax.yaxis.set_major_formatter(FuncFormatter(lambda v, p: f'${v + 0.0:.0f}$'))
    ax.tick_params(which='both', direction='in', top=True, right=True, labelsize=15)
    ax.tick_params(which='major', length=6, width=1, pad=6)
    ax.tick_params(which='minor', length=3, width=0.8)
    for s in ax.spines.values():
        s.set_color('#444444')
        s.set_linewidth(1.1)


def title(ax, name, q2, color):
    txt = (r'$\mathbf{' + name + r'}\ :\ \mathbf{Q^2}\ \mathbf{=}\ ' + q2 +
           r'\ \mathbf{GeV^2}$')
    ax.text(0.5, 0.9, txt, transform=ax.transAxes, ha='center', va='center',
            fontsize=24, color=color, zorder=1.5)


fig = plt.figure(figsize=(12.48, 12.96), dpi=100)
W, H = 1248.0, 1296.0
for i in range(5):
    top = 8 + 254 * i
    b = 1 - (top + 200) / H
    h = 200 / H
    ax_l = fig.add_axes([100 / W, b, 531 / W, h])
    ax_r = fig.add_axes([722 / W, b, 531 / W, h])

    draw(ax_l, nu_th[i], panels_rl[i], nu_lines[i])
    style(ax_l, x_max[i], rl_ylim[i], rl_ystep[i])
    ax_l.set_ylabel(r'$\mathbf{R_L}\ (GeV^{-1})$', fontsize=17)
    title(ax_l, 'R_L', q2_values[i], 'blue')

    draw(ax_r, nu_th[i], panels_rt[i], nu_lines[i])
    style(ax_r, x_max[i], rt_ylim[i], 20)
    ax_r.set_ylabel(r'$\mathbf{R_T}\ (GeV^{-1})$', fontsize=17)
    title(ax_r, 'R_T', q2_values[i], 'red')

    if i == 4:
        ax_l.set_xlabel(r'$\nu\ (GeV)$', fontsize=18)
        ax_r.set_xlabel(r'$\nu\ (GeV)$', fontsize=18)

fig.savefig('out.png', dpi=100)
